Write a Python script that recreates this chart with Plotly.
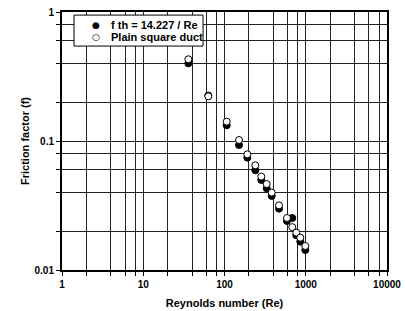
import plotly.graph_objects as go

# Reynolds numbers and friction factors
re_theory = [35.9, 63.2, 106.4, 150.8, 190.9, 239.4, 283.8, 330.6, 381, 468.7, 587.6, 682.8, 765, 857, 987]
f_theory = [0.400, 0.225, 0.1324, 0.0931, 0.0743, 0.0593, 0.0499, 0.0430, 0.0375, 0.0299, 0.0240, 0.0253, 0.0186, 0.0166, 0.0143]

re_plain = [35.9, 63.2, 106.4, 150.8, 190.9, 239.4, 283.8, 330.6, 381, 468.7, 587.6, 682.8, 765, 857, 987]
f_plain = [0.430, 0.222, 0.1413, 0.1018, 0.0788, 0.0648, 0.0530, 0.0464, 0.0398, 0.0317, 0.0253, 0.0215, 0.0195, 0.0178, 0.01535]

series_names = ["f th = 14.227 / Re", "Plain square duct"]

x_tickvals = [1, 2, 4, 6, 8, 10, 20, 40, 60, 80, 100, 200, 400, 600, 800, 1000, 2000, 4000, 6000, 8000, 10000]
x_ticktext = ["1", "", "", "", "", "10", "", "", "", "", "100", "", "", "", "", "1000", "", "", "", "", "10000"]
y_tickvals = [0.01, 0.02, 0.04, 0.06, 0.08, 0.1, 0.2, 0.4, 0.6, 0.8, 1]
y_ticktext = ["0.01", "", "", "", "", "0.1", "", "", "", "", "1"]

FONT = "Liberation Sans, Arial, sans-serif"

fig = go.Figure()
fig.add_trace(go.Scatter(
    x=re_theory, y=f_theory, mode="markers", name=series_names[0], showlegend=False,
    marker=dict(size=7, color="black", line=dict(color="black", width=1)),
))
fig.add_trace(go.Scatter(
    x=re_plain, y=f_plain, mode="markers", name=series_names[1], showlegend=False,
    marker=dict(size=7, color="white", line=dict(color="black", width=1)),
))

axis_common = dict(
    type="log", showgrid=True, gridcolor="#222", gridwidth=1,
    showline=True, linecolor="black", linewidth=2, mirror=True,
    ticks="outside", ticklen=4, tickcolor="black", tickwidth=1,
    tickfont=dict(family=FONT, size=10, color="black", weight="bold"),
    zeroline=False, automargin=False,
)

fig.update_xaxes(
    **axis_common, range=[0, 4], tickvals=x_tickvals, ticktext=x_ticktext,
    title=dict(text="<b>Reynolds number (Re)</b>", font=dict(family=FONT, size=11, color="black"), standoff=10),
)
fig.update_yaxes(
    **axis_common, range=[-2, 0], tickvals=y_tickvals, ticktext=y_ticktext,
    title=dict(text="<b>Friction factor (f)</b>", font=dict(family=FONT, size=11, color="black"), standoff=3),
)

# Custom compact legend (box + symbol + label)
fig.add_shape(type="rect", xref="paper", yref="paper", x0=0.037, x1=0.434, y0=0.868, y1=0.988,
              line=dict(color="black", width=1), fillcolor="white", layer="above")
legend_symbols = ["\u25cf", "\u25cb"]
legend_rows = [0.950, 0.903]
for sym, name, yy in zip(legend_symbols, series_names, legend_rows):
    fig.add_annotation(xref="paper", yref="paper", x=0.105, y=yy, text=sym, showarrow=False,
                       xanchor="center", yanchor="middle",
                       font=dict(family="DejaVu Sans", size=9, color="black"))
    fig.add_annotation(xref="paper", yref="paper", x=0.146, y=yy, text="<b>" + name + "</b>", showarrow=False,
                       xanchor="left", yanchor="middle",
                       font=dict(family=FONT, size=11, color="black"))

fig.update_layout(
    width=405, height=311,
    margin=dict(l=62, r=18, t=12, b=41),
    plot_bgcolor="white", paper_bgcolor="white",
    font=dict(family=FONT, size=10, color="black"),
    showlegend=False,
)

fig.write_html("out.html", config={"displayModeBar": False},
               post_script="document.body.style.margin='0px';document.body.style.overflow='hidden';")
